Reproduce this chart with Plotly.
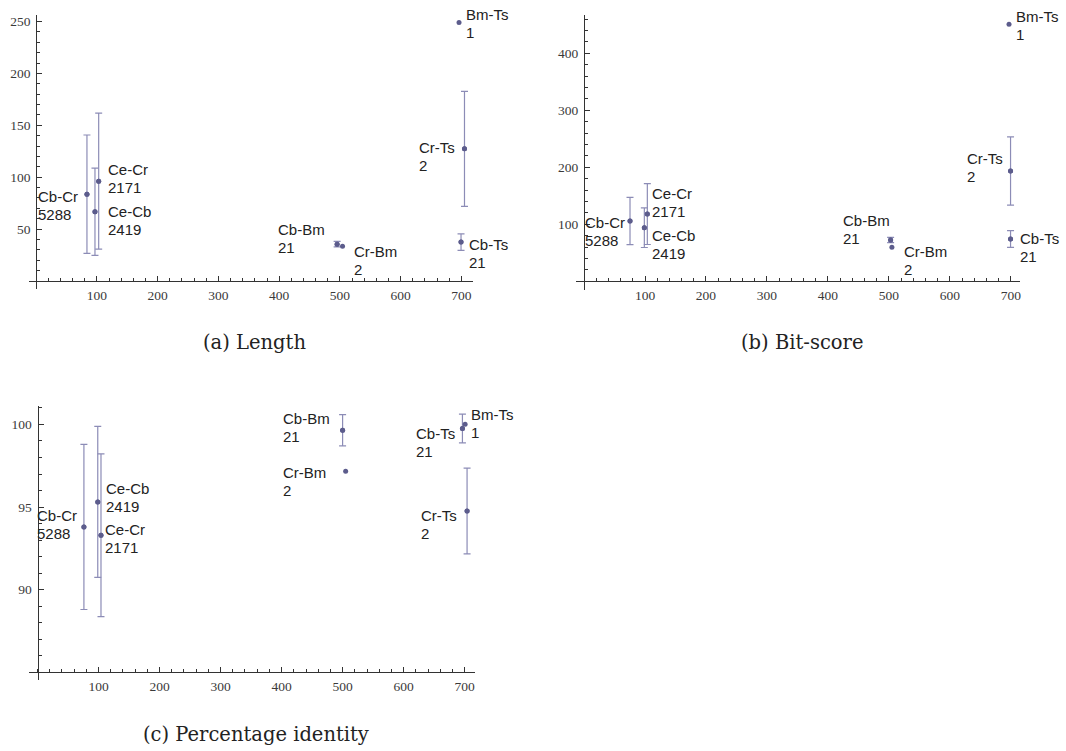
import plotly.graph_objects as go

# ---------------- data ----------------
pairs = ["Cb-Cr", "Ce-Cb", "Ce-Cr", "Cb-Bm", "Cr-Bm", "Bm-Ts", "Cr-Ts", "Cb-Ts"]
counts = [5288, 2419, 2171, 21, 2, 1, 2, 21]

length_x = [83.7, 96.9, 103.0, 495.4, 504.3, 696.0, 705.0, 699.3]
length_y = [83.7, 66.7, 96.2, 35.5, 33.6, 249.0, 127.4, 37.5]
length_err = [57.0, 42.0, 65.5, 2.6, None, None, 55.4, 8.0]

bits_x = [75.4, 98.9, 103.8, 502.8, 504.9, 697.0, 699.5, 699.5]
bits_y = [105.8, 94.0, 118.0, 72.5, 59.6, 451.0, 193.5, 74.2]
bits_err = [41.5, 34.7, 53.5, 4.7, None, None, 60.0, 14.6]

ident_x = [76.0, 98.7, 104.0, 500.0, 505.0, 700.8, 704.0, 696.4]
ident_y = [93.79, 95.31, 93.29, 99.65, 97.17, 100.02, 94.76, 99.76]
ident_err = [5.0, 4.57, 4.93, 0.95, None, None, 2.6, 0.87]

x_ticks = [100, 200, 300, 400, 500, 600, 700]
length_ticks = [50, 100, 150, 200, 250]
bits_ticks = [100, 200, 300, 400]
ident_ticks = [90, 95, 100]

captions = ["(a) Length", "(b) Bit-score", "(c) Percentage identity"]

# ---------------- layout helpers ----------------
W, H = 1066, 751
MARK = "rgb(92,92,140)"
ERRC = "rgb(140,140,182)"
AXC = "#333333"


def fx(px):
    return px / W


def fy(py):
    return 1 - py / H


panels = [
    dict(xs=length_x, ys=length_y, err=length_err, yticks=length_ticks,
         xpx=(28.8, 473.3), xr=(-12, 719.5), ypx=(15, 289), yr=(-7.7, 256.3),
         oy=0, ydt=10, cap=(254, 342),
         lab=[("right", -7, -11), ("left", 11, -9), ("left", 7, 3), ("right", -10, 6),
              ("left", 9, -14), ("left", 5, -1), ("right", -7, -8), ("left", 6, -11)]),
    dict(xs=bits_x, ys=bits_y, err=bits_err, yticks=bits_ticks,
         xpx=(575.5, 1020), xr=(-14, 715), ypx=(15, 290), yr=(-15.3, 467.2),
         oy=0, ydt=20, cap=(802, 342),
         lab=[("right", -3, -11), ("left", 6, -17), ("left", 3, 12), ("right", 1, 10),
              ("left", 10, -13), ("left", 5, -1.5), ("right", -6, 3), ("left", 7, -9)]),
    dict(xs=ident_x, ys=ident_y, err=ident_err, yticks=ident_ticks,
         xpx=(29, 475), xr=(-14, 717), ypx=(406, 680), yr=(84.52, 101.12),
         oy=85, ydt=1, cap=(256, 734),
         lab=[("right", -5, 2), ("left", 6, 4), ("left", 2, -3), ("right", -11, 3),
              ("right", -18, -10), ("left", 4, 1), ("right", -8, -14), ("right", -5, -14)]),
]

fig = go.Figure()
annotations = []
layout_axes = {}

for i, p in enumerate(panels):
    n = "" if i == 0 else str(i + 1)
    xref, yref = "x" + n, "y" + n
    # points that carry error bars
    ex = [x for x, e in zip(p["xs"], p["err"]) if e is not None]
    ey = [y for y, e in zip(p["ys"], p["err"]) if e is not None]
    ee = [e for e in p["err"] if e is not None]
    fig.add_trace(go.Scatter(
        x=ex, y=ey, mode="markers", xaxis=xref, yaxis=yref,
        marker=dict(size=5, color=MARK),
        error_y=dict(type="data", array=ee, symmetric=True, color=ERRC,
                     thickness=1.2, width=3.5),
        showlegend=False, hoverinfo="skip"))
    fig.add_trace(go.Scatter(
        x=p["xs"], y=p["ys"], mode="markers", xaxis=xref, yaxis=yref,
        marker=dict(size=5, color=MARK), showlegend=False))

    dx0, dx1 = fx(p["xpx"][0]), fx(p["xpx"][1])
    dy0, dy1 = fy(p["ypx"][1]), fy(p["ypx"][0])
    xr, yr = p["xr"], p["yr"]
    xpos = dy0 + (p["oy"] - yr[0]) / (yr[1] - yr[0]) * (dy1 - dy0)
    ypos = dx0 + (0 - xr[0]) / (xr[1] - xr[0]) * (dx1 - dx0)

    tickfont = dict(family="Liberation Serif", size=13.5, color="#3a3a3a")
    layout_axes["xaxis" + n] = dict(
        domain=[dx0, dx1], range=list(xr), anchor="free", position=xpos,
        showgrid=False, zeroline=False, showline=True, linecolor=AXC, linewidth=1,
        tickmode="array", tickvals=x_ticks, ticks="inside", ticklen=5,
        tickcolor=AXC, tickwidth=1, tickfont=tickfont, ticklabelstandoff=2,
        minor=dict(tickmode="linear", tick0=0, dtick=20, ticks="inside",
                   ticklen=3, tickcolor=AXC, tickwidth=1, showgrid=False),
        fixedrange=True)
    layout_axes["yaxis" + n] = dict(
        domain=[dy0, dy1], range=list(yr), anchor="free", position=ypos,
        showgrid=False, zeroline=False, showline=True, linecolor=AXC, linewidth=1,
        tickmode="array", tickvals=p["yticks"], ticks="inside", ticklen=5,
        tickcolor=AXC, tickwidth=1, tickfont=tickfont, ticklabelstandoff=3,
        minor=dict(tickmode="linear", tick0=0, dtick=p["ydt"], ticks="inside",
                   ticklen=3, tickcolor=AXC, tickwidth=1, showgrid=False),
        fixedrange=True)

    for k in range(len(pairs)):
        xa, xs_, ys_ = p["lab"][k]
        # glyphs at 15px, line spacing based on 13.5px (tighter, like the original)
        annotations.append(dict(
            x=p["xs"][k], y=p["ys"][k], xref=xref, yref=yref,
            text=(f"<span style='font-size:15px'>{pairs[k]}</span><br>"
                  f"<span style='font-size:15px'>{counts[k]}</span>"),
            showarrow=False,
            xanchor=xa, yanchor="middle", align="left",
            xshift=xs_, yshift=ys_,
            font=dict(family="Liberation Sans", size=13.5, color="#222222")))

    annotations.append(dict(
        x=fx(p["cap"][0]), y=fy(p["cap"][1]), xref="paper", yref="paper",
        text=captions[i], showarrow=False, xanchor="center", yanchor="middle",
        font=dict(family="DejaVu Serif", size=19.5, color="#222222")))

fig.update_layout(
    width=W, height=H, margin=dict(l=0, r=0, t=0, b=0),
    paper_bgcolor="white", plot_bgcolor="white",
    hovermode=False,
    annotations=annotations, **layout_axes)

# remove the default 8px page margin so the figure fills the window exactly
fig.write_html("out.html",
               config={"displayModeBar": False, "staticPlot": True},
               post_script="document.body.style.margin='0';"
                           "document.body.style.overflow='hidden';")
